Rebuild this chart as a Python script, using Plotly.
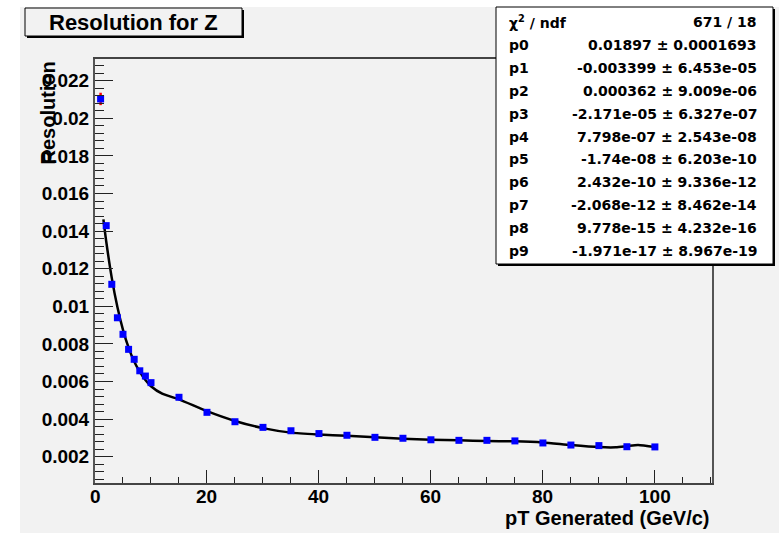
import plotly.graph_objects as go

# ---------------- data ----------------
pt = [1, 2, 3, 4, 5, 6, 7, 8, 9, 10, 15, 20, 25, 30, 35, 40, 45, 50,
      55, 60, 65, 70, 75, 80, 85, 90, 95, 100]
resolution = [0.02103, 0.01429, 0.01117, 0.00939, 0.00851, 0.00771, 0.00718,
              0.00657, 0.00629, 0.00594, 0.00516, 0.00436, 0.00386, 0.00356,
              0.00338, 0.00323, 0.00314, 0.00303, 0.00298, 0.00290, 0.00287,
              0.00287, 0.00284, 0.00273, 0.00262, 0.00259, 0.00253, 0.00252]
res_err = [0.00033, 0.00012, 0.0001, 0.00008, 0.00007, 0.00006, 0.00006,
           0.00005, 0.00005, 0.00005, 0.00004, 0.00004, 0.00003, 0.00003,
           0.00003, 0.00003, 0.00003, 0.00003, 0.00003, 0.00003, 0.00003,
           0.00003, 0.00003, 0.00003, 0.00003, 0.00003, 0.00003, 0.00003]

# fitted curve
fit_x = [1.5, 2, 3, 4, 5, 6, 7, 8, 9, 10, 12, 15, 20, 25, 30, 35, 40, 45,
         50, 55, 60, 65, 70, 75, 80, 85, 90, 93, 95, 97, 100]
fit_y = [0.01462, 0.01346, 0.01150, 0.00996, 0.00875, 0.00780, 0.00706,
         0.00651, 0.00608, 0.00575, 0.00535, 0.00505, 0.00442, 0.00390,
         0.00352, 0.00328, 0.00318, 0.00311, 0.00303, 0.00296, 0.00290,
         0.00287, 0.00283, 0.00282, 0.00276, 0.00262, 0.00251, 0.00250,
         0.00256, 0.00262, 0.00251]

y_tickvals = [0.002, 0.004, 0.006, 0.008, 0.010, 0.012, 0.014, 0.016,
              0.018, 0.020, 0.022]
y_ticktext = ["0.002", "0.004", "0.006", "0.008", "0.01", "0.012", "0.014",
              "0.016", "0.018", "0.02", "0.022"]
x_tickvals = [0, 20, 40, 60, 80, 100]
x_ticktext = ["0", "20", "40", "60", "80", "100"]

stat_labels = ["χ<sup>2</sup> / ndf", "p0", "p1", "p2", "p3", "p4", "p5",
               "p6", "p7", "p8", "p9"]
stat_values = ["671 / 18",
               "0.01897 ± 0.0001693",
               "-0.003399 ± 6.453e-05",
               "0.000362 ± 9.009e-06",
               "-2.171e-05 ± 6.327e-07",
               "7.798e-07 ± 2.543e-08",
               "-1.74e-08 ± 6.203e-10",
               "2.432e-10 ± 9.336e-12",
               "-2.068e-12 ± 8.462e-14",
               "9.778e-15 ± 4.232e-16",
               "-1.971e-17 ± 8.967e-19"]

title_text = "Resolution for Z"
x_title = "pT Generated (GeV/c)"
y_title = "Resolution"

# ---------------- layout helpers (pixel -> paper) ----------------
W, H = 779, 533
L, R, T, B = 95, 712, 59, 483


def px(x):
    return (x - L) / (R - L)


def py(y):
    return (B - y) / (B - T)


FONT = "Liberation Sans, Arial, Helvetica, sans-serif"
STATFONT = "DejaVu Sans, Liberation Sans, sans-serif"
BG = "#f2f2f2"

fig = go.Figure()

fig.add_trace(go.Scatter(
    x=fit_x, y=fit_y, mode="lines",
    line=dict(color="black", width=2.5, shape="spline", smoothing=0.6),
    hoverinfo="skip", showlegend=False))

fig.add_trace(go.Scatter(
    x=pt, y=resolution, mode="markers",
    marker=dict(symbol="square", size=7, color="#0000ff"),
    error_y=dict(type="data", array=res_err, color="#ff0000",
                 thickness=2.5, width=0),
    showlegend=False))

shapes = []
# white margins outside the canvas
shapes.append(dict(type="rect", xref="paper", yref="paper",
                   x0=px(0), x1=px(20), y0=py(H), y1=py(0),
                   fillcolor="white", line=dict(width=0), layer="above"))
shapes.append(dict(type="rect", xref="paper", yref="paper",
                   x0=px(0), x1=px(W), y0=py(7), y1=py(0),
                   fillcolor="white", line=dict(width=0), layer="above"))
# title box with shadow
shapes.append(dict(type="rect", xref="paper", yref="paper",
                   x0=px(27), x1=px(244), y0=py(38), y1=py(10),
                   fillcolor="black", line=dict(width=0), layer="above"))
shapes.append(dict(type="rect", xref="paper", yref="paper",
                   x0=px(25), x1=px(242), y0=py(36), y1=py(8),
                   fillcolor=BG, line=dict(color="black", width=1),
                   layer="above"))
# stats box with shadow
shapes.append(dict(type="rect", xref="paper", yref="paper",
                   x0=px(498), x1=px(775), y0=py(266), y1=py(9),
                   fillcolor="black", line=dict(width=0), layer="above"))
shapes.append(dict(type="rect", xref="paper", yref="paper",
                   x0=px(496), x1=px(773), y0=py(264), y1=py(7),
                   fillcolor="white", line=dict(color="black", width=1),
                   layer="above"))

annotations = []
annotations.append(dict(xref="paper", yref="paper", x=px(133.5), y=py(22),
                        text="<b>%s</b>" % title_text, showarrow=False,
                        xanchor="center", yanchor="middle",
                        font=dict(family=FONT, size=22, color="black")))
row0, drow = 22.3, 22.85
for i, (lab, val) in enumerate(zip(stat_labels, stat_values)):
    yy = py(row0 + i * drow)
    annotations.append(dict(xref="paper", yref="paper", x=px(507), y=yy,
                            text="<b>%s</b>" % lab, showarrow=False,
                            xanchor="left", yanchor="middle",
                            font=dict(family=STATFONT, size=14,
                                      color="black")))
    annotations.append(dict(xref="paper", yref="paper", x=px(759), y=yy,
                            text="<b>%s</b>" % val, showarrow=False,
                            xanchor="right", yanchor="middle",
                            font=dict(family=STATFONT, size=14,
                                      color="black")))
# x tick labels
for v, t in zip(x_tickvals, x_ticktext):
    annotations.append(dict(xref="x", yref="paper", x=v, y=py(496.5),
                            text="<b>%s</b>" % t, showarrow=False,
                            xanchor="center", yanchor="middle",
                            font=dict(family=FONT, size=19, color="black")))
annotations.append(dict(xref="paper", yref="paper", x=1.0, y=py(518),
                        text="<b>%s</b>" % x_title, showarrow=False,
                        xanchor="right", yanchor="middle",
                        font=dict(family=FONT, size=20, color="black")))
annotations.append(dict(xref="paper", yref="paper", x=px(47), y=1.0,
                        text="<b>%s</b>" % y_title, showarrow=False,
                        textangle=-90, xanchor="center", yanchor="top",
                        font=dict(family=FONT, size=20, color="black")))

fig.update_layout(
    width=W, height=H,
    margin=dict(l=L, r=W - R, t=T, b=H - B, pad=0),
    paper_bgcolor=BG, plot_bgcolor=BG,
    shapes=shapes, annotations=annotations,
    font=dict(family=FONT, color="black"),
    xaxis=dict(range=[0, 110.2], tickvals=x_tickvals, ticktext=x_ticktext,
               showticklabels=False,
               ticks="inside", ticklen=13, tickwidth=1, tickcolor="#222",
               minor=dict(dtick=5, tick0=0, ticks="inside", ticklen=6,
                          tickcolor="#222", tickwidth=1),
               showgrid=False, zeroline=False,
               showline=True, linecolor="#444", linewidth=1.5, mirror=True),
    yaxis=dict(range=[0.000601, 0.023154], tickvals=y_tickvals,
               ticktext=y_ticktext,
               ticks="inside", ticklen=18, tickwidth=1, tickcolor="#222",
               minor=dict(dtick=0.0004, tick0=0, ticks="inside", ticklen=9,
                          tickcolor="#222", tickwidth=1),
               showgrid=False, zeroline=False,
               showline=True, linecolor="#555", linewidth=2, mirror=True,
               tickfont=dict(family=FONT, size=19, color="black",
                             weight="bold")),
)

fig.write_html("out.html")
